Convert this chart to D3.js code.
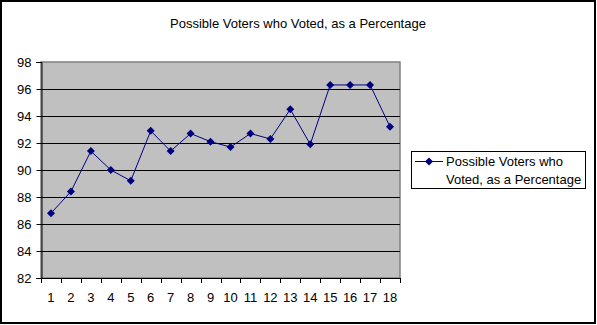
<!DOCTYPE html>
<html><head><meta charset="utf-8">
<script src="https://cdn.jsdelivr.net/npm/d3@7"></script>
<style>body{margin:0;background:#fff}svg{display:block}text{font-family:"Liberation Sans",Arial,sans-serif;font-size:13px;fill:#000}</style>
</head><body><svg id="c" width="597" height="325"></svg>
<script>
const categories = ["1","2","3","4","5","6","7","8","9","10","11","12","13","14","15","16","17","18"];
const values = [86.8,88.4,91.4,90.0,89.2,92.9,91.4,92.7,92.1,91.7,92.7,92.3,94.5,91.9,96.3,96.3,96.3,93.2];
const yTicks = [82,84,86,88,90,92,94,96,98];
const seriesName = "Possible Voters who Voted, as a Percentage";
const legendLines = ["Possible Voters who","Voted, as a Percentage"];

const svg = d3.select("#c");
svg.append("rect").attr("x",1).attr("y",1).attr("width",594).attr("height",322)
  .attr("fill","#fff").attr("stroke","#000").attr("stroke-width",2);

const L=41,R=400,T=62,B=278;
const x = d3.scaleBand().domain(categories).range([L,R]);
const y = d3.scaleLinear().domain([82,98]).range([B,T]);

svg.append("text").attr("x",298).attr("y",28).attr("text-anchor","middle").text(seriesName);

svg.append("rect").attr("x",L).attr("y",T).attr("width",R-L).attr("height",B-T)
  .attr("fill","#c0c0c0").attr("stroke","#808080").attr("stroke-width",1.5);

svg.append("g").selectAll("line").data(yTicks.slice(1,-1)).join("line")
  .attr("x1",L).attr("x2",R).attr("y1",d=>Math.round(y(d))+0.5).attr("y2",d=>Math.round(y(d))+0.5)
  .attr("stroke","#000");

const ya = svg.append("g").attr("transform",`translate(${L+0.5},0)`)
  .call(d3.axisLeft(y).tickValues(yTicks).tickSize(5).tickPadding(5));
ya.select(".domain").attr("stroke","#000");
ya.selectAll("text").attr("font-size",13).attr("font-family","Liberation Sans, Arial, sans-serif");

const xg = svg.append("g");
xg.append("line").attr("x1",L).attr("x2",R+1).attr("y1",B+0.5).attr("y2",B+0.5).attr("stroke","#000");
const bounds = categories.map(c=>x(c)).concat([R]);
xg.selectAll("line.t").data(bounds).join("line").attr("class","t")
  .attr("x1",d=>Math.round(d)+0.5).attr("x2",d=>Math.round(d)+0.5).attr("y1",B).attr("y2",B+5).attr("stroke","#000");
xg.selectAll("text").data(categories).join("text")
  .attr("x",d=>x(d)+x.bandwidth()/2).attr("y",302).attr("text-anchor","middle").text(d=>d);

const line = d3.line().x((d,i)=>x(categories[i])+x.bandwidth()/2).y(d=>y(d));
svg.append("path").datum(values).attr("d",line).attr("fill","none").attr("stroke","#000080").attr("stroke-width",1);
const diamond = "M0,-4L4,0L0,4L-4,0Z";
svg.append("g").selectAll("path").data(values).join("path")
  .attr("transform",(d,i)=>`translate(${x(categories[i])+x.bandwidth()/2},${y(d)})`)
  .attr("d",diamond).attr("fill","#000080");

const lg = svg.append("g");
lg.append("rect").attr("x",411.5).attr("y",151.5).attr("width",174).attr("height",37).attr("fill","#fff").attr("stroke","#000");
lg.append("line").attr("x1",415).attr("x2",443).attr("y1",161.5).attr("y2",161.5).attr("stroke","#000080");
lg.append("path").attr("transform","translate(429,161.5)").attr("d",diamond).attr("fill","#000080");
lg.selectAll("text").data(legendLines).join("text").attr("x",446).attr("y",(d,i)=>166+i*17.5).text(d=>d);
</script></body></html>
